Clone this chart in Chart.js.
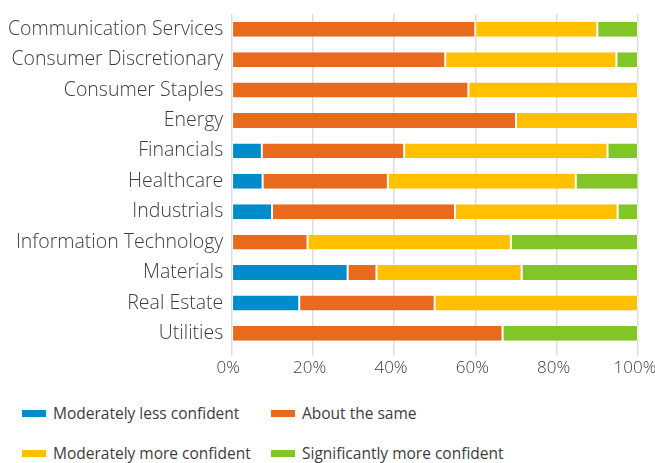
<!DOCTYPE html>
<html>
<head>
<meta charset="utf-8">
<script src="https://cdn.jsdelivr.net/npm/chart.js@4"></script>
<style>
  body { margin: 0; background: #fff; font-family: 'Open Sans', sans-serif; }
  .wrap { position: relative; width: 655px; height: 463px; }
  .chart-box { position: absolute; left: 0; top: 0; width: 655px; height: 382px; }
  #legend { position: absolute; left: 22px; top: 402px; width: 633px; display: grid;
            grid-template-columns: 249px 360px; row-gap: 18px; color: #3d3d3d; font-size: 15.5px; }
  #legend .item { display: flex; align-items: center; height: 22px; white-space: nowrap; }
  #legend .box { width: 24px; height: 7px; margin-right: 7px; }
</style>
</head>
<body>
<div class="wrap">
  <div class="chart-box"><canvas id="chart"></canvas></div>
  <div id="legend"></div>
</div>
<script>
// sectors, top to bottom
const categories = [
  'Communication Services', 'Consumer Discretionary', 'Consumer Staples', 'Energy',
  'Financials', 'Healthcare', 'Industrials', 'Information Technology',
  'Materials', 'Real Estate', 'Utilities'
];

// share of respondents (%) per sector
const lessConfident = [0, 0, 0, 0, 7.5, 7.7, 10, 0, 28.6, 16.7, 0];
const aboutSame = [60, 52.6, 58.3, 70, 35, 30.8, 45, 18.75, 7.1, 33.3, 66.7];
const moreConfident = [30, 42.1, 41.7, 30, 50, 46.2, 40, 50, 35.7, 50, 0];
const muchMoreConfident = [10, 5.3, 0, 0, 7.5, 15.4, 5, 31.25, 28.6, 0, 33.3];

const seriesNames = [
  'Moderately less confident', 'About the same',
  'Moderately more confident', 'Significantly more confident'
];
const seriesColors = ['#008bca', '#e96a1c', '#ffc000', '#82c526'];
const xTicks = [0, 20, 40, 60, 80, 100];

const seriesData = [lessConfident, aboutSame, moreConfident, muchMoreConfident];

const chart = new Chart(document.getElementById('chart'), {
  type: 'bar',
  data: {
    labels: categories,
    datasets: seriesData.map((values, i) => ({
      label: seriesNames[i],
      data: values,
      backgroundColor: seriesColors[i],
      borderColor: '#ffffff',
      borderWidth: { left: 1, right: 1 },
      borderSkipped: false,
      barPercentage: 0.49,
      categoryPercentage: 1,
    })),
  },
  options: {
    indexAxis: 'y',
    responsive: true,
    maintainAspectRatio: false,
    animation: false,
    layout: { padding: { top: 14, right: 0, bottom: 2, left: 8 } },
    plugins: { legend: { display: false }, tooltip: { enabled: false } },
    scales: {
      x: {
        stacked: true,
        min: 0,
        max: 100,
        afterBuildTicks(scale) {
          scale.ticks = xTicks.map(v => ({ value: v }));
        },
        afterFit(scale) {
          // keep the plot wide; the last label sits close to the edge
          scale.paddingRight = 17;
          scale.paddingLeft = 0;
        },
        ticks: {
          callback: v => v + '%',
          color: '#3d3d3d',
          font: { family: 'Open Sans', size: 17, weight: 300 },
          padding: 2,
          labelOffset: -3,
        },
        grid: { color: '#dddddd', lineWidth: 1.5, tickLength: 7 },
        border: { display: false },
      },
      y: {
        stacked: true,
        afterFit(scale) {
          scale.paddingTop = 0;
          scale.paddingBottom = 0;
        },
        ticks: {
          color: '#3d3d3d',
          font: { family: 'Open Sans', size: 19.5, weight: 300 },
          padding: 0,
        },
        grid: { display: false },
        border: { display: false },
      },
    },
  },
});

// legend laid out in two fixed columns
const legend = document.getElementById('legend');
seriesNames.forEach((name, i) => {
  const item = document.createElement('div');
  item.className = 'item';
  const box = document.createElement('span');
  box.className = 'box';
  box.style.background = seriesColors[i];
  item.appendChild(box);
  item.appendChild(document.createTextNode(name));
  legend.appendChild(item);
});
</script>
</body>
</html>
